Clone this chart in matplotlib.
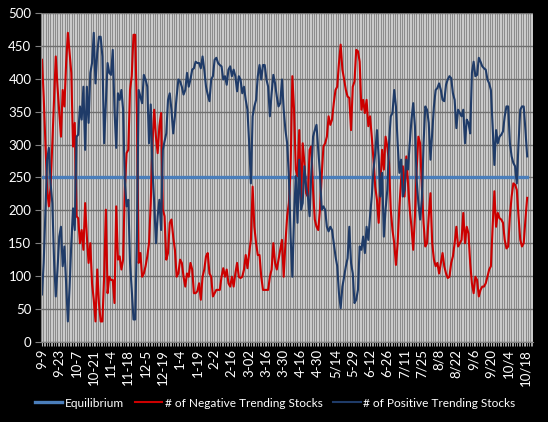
import numpy as np
import matplotlib.pyplot as plt

# tick labels, one every 10 trading days
labels = ['9-9', '9-23', '10-7', '10-21', '11-4', '11-18', '12-5', '12-19', '1-4',
          '1-19', '2-2', '2-16', '3-02', '3-16', '3-30', '4-16', '4-30', '5/14',
          '5-29', '6-12', '6-26', '7/11', '7/25', '8/8', '8/22', '9/6', '9/20',
          '10/4', '10/18']

# number of negative trending stocks (daily)
neg_1 = [429, 373, 302, 231, 206, 236, 302, 370, 434, 388, 350, 312, 383, 358, 424,
         470, 440, 409, 297, 333, 191, 188, 150, 170, 140, 211, 160, 120, 150, 89,
         64, 31, 110, 59, 31, 31, 99, 201, 74, 99, 94, 94, 59, 206, 125, 130, 110,
         125, 236, 287, 292, 383, 404, 467, 467, 348]
neg_2 = [120, 135, 99, 104, 115, 130, 150, 211, 302, 353, 312, 287, 328, 348, 201,
         191, 125, 135, 181, 186, 160, 140, 99, 104, 125, 120, 99, 84, 104, 99, 120,
         110, 74, 74, 77, 89, 64, 99, 110, 130, 135, 104, 99, 69, 74, 79, 79, 79, 99,
         112, 99, 110, 89, 84, 99]
neg_3 = [84, 104, 120, 99, 97, 99, 110, 132, 112, 135, 155, 236, 175, 150, 132, 132,
         99, 79, 79, 79, 79, 99, 110, 150, 120, 110, 125, 140, 155, 99, 150, 191, 211,
         262, 404, 353, 262, 252, 322, 211, 302, 272, 226, 221, 292, 297, 231, 186,
         175, 170, 201, 252, 297, 302, 312, 343, 330]
neg_4 = [338, 363, 383, 388, 424, 452, 414, 399, 383, 373, 371, 322, 388, 396, 444,
         442, 426, 353, 368, 348, 368, 328, 343, 312, 277, 236, 216, 181, 241, 292,
         262, 312, 297, 272, 201, 170, 150, 117, 150, 206, 246, 267, 221, 282, 241,
         201, 175, 140, 191, 262, 312, 302, 236, 181, 145, 150, 191]
neg_5 = [226, 150, 125, 115, 120, 104, 120, 135, 115, 104, 97, 99, 120, 130, 150, 175,
         145, 150, 155, 196, 150, 175, 165, 120, 89, 74, 99, 94, 69, 79, 84, 84, 89,
         99, 110, 115, 175, 229, 175, 196, 188, 186, 181, 155, 142, 145, 191, 221, 241,
         239, 231, 191, 155, 145, 150, 186, 219]

# number of positive trending stocks
pos_1 = [72, 120, 201, 277, 295, 241, 211, 125, 69, 110, 160, 175, 115, 145, 89, 31,
         84, 150, 203, 170, 312, 315, 358, 338, 388, 292, 388, 333, 409, 424, 470, 393,
         439, 464, 464, 434, 302, 363, 424, 409, 406, 444, 353, 295, 378, 368, 383,
         353, 241, 206, 216, 120, 79, 34, 34, 160]
pos_2 = [383, 373, 363, 406, 399, 388, 302, 361, 262, 211, 150, 191, 216, 170, 292,
         305, 317, 368, 378, 353, 317, 343, 373, 399, 396, 388, 376, 383, 409, 388,
         399, 414, 416, 426, 424, 424, 416, 434, 414, 388, 376, 366, 399, 404, 429,
         432, 424, 421, 419, 399, 404, 391, 414, 419, 404]
pos_3 = [414, 404, 381, 404, 399, 378, 388, 368, 353, 302, 241, 343, 358, 368, 404,
         421, 399, 421, 421, 399, 388, 343, 378, 406, 393, 373, 358, 363, 399, 353,
         322, 302, 252, 160, 99, 191, 252, 181, 277, 201, 211, 267, 236, 221, 191, 257,
         312, 322, 330, 292, 257, 201, 206, 201, 175, 168, 175]
pos_4 = [170, 150, 130, 115, 74, 51, 84, 99, 115, 127, 175, 120, 104, 59, 64, 79, 145,
         140, 160, 135, 175, 155, 191, 221, 262, 287, 322, 282, 221, 257, 160, 201,
         231, 302, 343, 348, 383, 358, 302, 257, 277, 221, 231, 277, 262, 302, 338,
         363, 328, 246, 211, 186, 216, 302, 358, 353, 333]
pos_5 = [277, 317, 358, 383, 386, 393, 383, 368, 366, 391, 399, 404, 401, 378, 368,
         325, 353, 348, 343, 353, 302, 338, 333, 317, 409, 426, 404, 406, 432, 426, 419,
         416, 414, 399, 393, 383, 328, 269, 322, 302, 312, 315, 320, 343, 358, 358, 302,
         282, 272, 267, 241, 302, 353, 358, 358, 322, 282]

negative = np.array(neg_1 + neg_2 + neg_3 + neg_4 + neg_5)
positive = np.array(pos_1 + pos_2 + pos_3 + pos_4 + pos_5)
n = len(negative)
equilibrium = np.full(n, 250)

plt.rcParams['font.family'] = ['Lato', 'DejaVu Sans']

fig = plt.figure(figsize=(5.48, 4.22), dpi=100, facecolor='black')
ax = fig.add_axes([0.075, 0.19, 0.898, 0.779])
ax.set_facecolor('#8c8c8c')

days = np.arange(n)
ax.plot(np.arange(len(equilibrium)), equilibrium, color='#4a7ebb', lw=2.4,
        label='Equilibrium')
ax.plot(days, negative, color='#cc0000', lw=1.5,
        label='# of Negative Trending Stocks')
ax.plot(np.arange(len(positive)), positive, color='#1f3b68', lw=1.5,
        label='# of Positive Trending Stocks')

ax.set_xlim(-0.5, 284.5)
ax.set_ylim(0, 500)
ax.set_yticks(np.arange(0, 501, 50))
ax.set_xticks(np.arange(len(labels)) * 10)
ax.set_xticklabels(labels, rotation=90)
ax.set_xticks(np.arange(0, 285), minor=True)

ax.set_axisbelow(True)
ax.grid(which='both', axis='x', color='#cdcdcd', lw=0.7)
ax.grid(which='major', axis='y', color='#6f6f6f', lw=1.0)

ax.tick_params(axis='y', colors='#808080', labelcolor='white', labelsize=9.5,
               length=4, pad=3)
ax.tick_params(axis='x', which='both', colors='#bfbfbf', labelcolor='white',
               labelsize=9.5, length=3, pad=2)
for side in ('top', 'right'):
    ax.spines[side].set_visible(False)
ax.spines['left'].set_color('#808080')
ax.spines['bottom'].set_color('#808080')

leg = fig.legend(loc='center', bbox_to_anchor=(0.502, 0.045), ncol=3, frameon=False,
                 fontsize=8.6, handlelength=2.3, columnspacing=0.9, handletextpad=0.2)
for t in leg.get_texts():
    t.set_color('white')

fig.savefig('out.png', dpi=100, facecolor='black')
